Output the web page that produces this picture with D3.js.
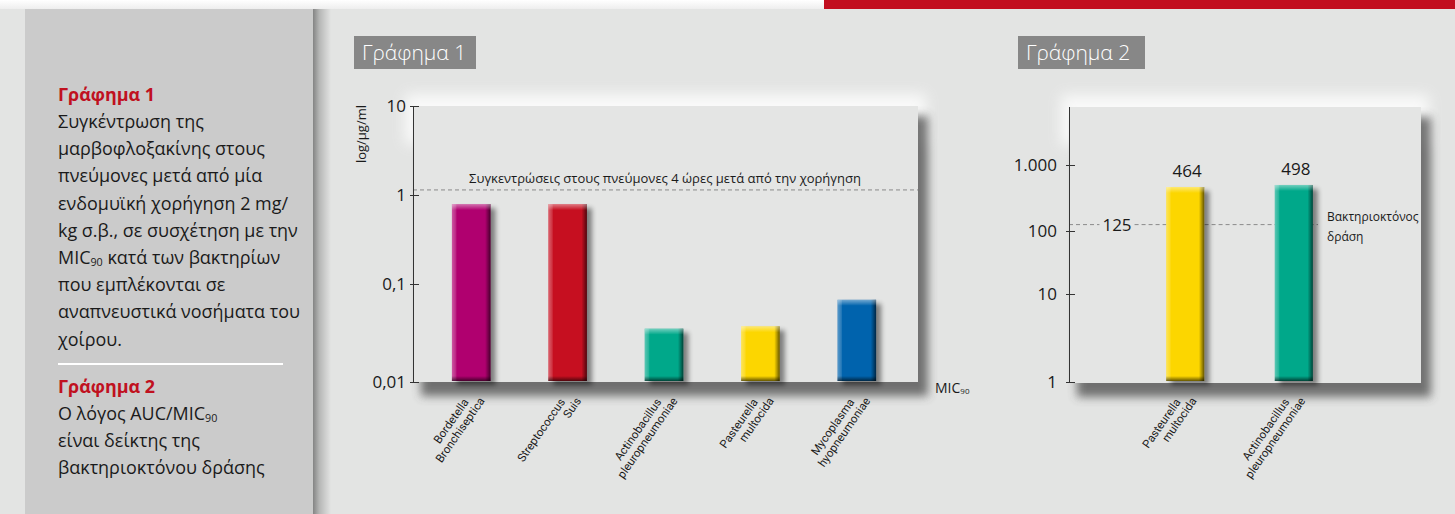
<!DOCTYPE html>
<html>
<head>
<meta charset="utf-8">
<script src="https://cdn.jsdelivr.net/npm/d3@7"></script>
<style>
  html, body { margin: 0; padding: 0; background: #e3e4e3; }
  svg { display: block; font-family: "Open Sans", sans-serif; }
</style>
</head>
<body>
<svg id="chart" width="1455" height="514"></svg>
<script>
// Γράφημα 1 : MIC90 (log μg/ml)
const bacteria1 = [["Bordetella", "Bronchiseptica"], ["Streptococcus", "Suis"], ["Actinobacillus", "pleuropneumoniae"], ["Pasteurella", "multocida"], ["Mycoplasma", "hyopneumoniae"]];
const mic90 = [0.79, 0.79, 0.035, 0.037, 0.069];
const colors1 = ["#b0006f", "#c60f20", "#00a88a", "#fcd600", "#0063ad"];
const lungConc = 1.14;
const ticks1 = [0.01, 0.1, 1, 10];
const tickLabels1 = ["0,01", "0,1", "1", "10"];

// Γράφημα 2 : AUC/MIC90
const bacteria2 = [["Pasteurella", "multocida"], ["Actinobacillus", "pleuropneumoniae"]];
const aucMic = [464, 498];
const colors2 = ["#fcd600", "#00a88a"];
const bactericidal = 125;
const ticks2 = [1, 10, 100, 1000];
const tickLabels2 = ["1", "10", "100", "1.000"];

// side panel text
const caption1 = [
  [{t: "Συγκέντρωση της"}],
  [{t: "μαρβοφλοξακίνης στους"}],
  [{t: "πνεύμονες μετά από μία"}],
  [{t: "ενδομυϊκή χορήγηση 2 mg/"}],
  [{t: "kg σ.β., σε συσχέτηση με την"}],
  [{t: "MIC"}, {t: "90", sub: true}, {t: " κατά των βακτηρίων"}],
  [{t: "που εμπλέκονται σε"}],
  [{t: "αναπνευστικά νοσήματα του"}],
  [{t: "χοίρου."}]
];
const caption2 = [
  [{t: "Ο λόγος AUC/MIC"}, {t: "90", sub: true}],
  [{t: "είναι δείκτης της"}],
  [{t: "βακτηριοκτόνου δράσης"}]
];

const svg = d3.select("#chart");
const defs = svg.append("defs");

// blur filters for shadows / glow
[["blur5", 5], ["blur3", 2.5], ["blur7", 7]].forEach(function(f){
  defs.append("filter").attr("id", f[0])
      .attr("x", "-50%").attr("y", "-50%").attr("width", "200%").attr("height", "200%")
    .append("feGaussianBlur").attr("stdDeviation", f[1]);
});

// bevel overlays for bars
let hGrad = defs.append("linearGradient").attr("id", "bevelH").attr("x1", 0).attr("x2", 1).attr("y1", 0).attr("y2", 0);
[[0, "#fff", 0.35], [0.1, "#fff", 0.15], [0.13, "#fff", 0], [0.86, "#000", 0], [0.92, "#000", 0.25], [1, "#000", 0.6]].forEach(function(s){
  hGrad.append("stop").attr("offset", s[0]).attr("stop-color", s[1]).attr("stop-opacity", s[2]);
});
let topGrad = defs.append("linearGradient").attr("id", "bevelTop").attr("x1", 0).attr("x2", 0).attr("y1", 0).attr("y2", 1);
[[0, "#fff", 0.45], [1, "#fff", 0]].forEach(function(s){
  topGrad.append("stop").attr("offset", s[0]).attr("stop-color", s[1]).attr("stop-opacity", s[2]);
});
let botGrad = defs.append("linearGradient").attr("id", "bevelBot").attr("x1", 0).attr("x2", 0).attr("y1", 0).attr("y2", 1);
[[0, "#000", 0], [1, "#000", 0.6]].forEach(function(s){
  botGrad.append("stop").attr("offset", s[0]).attr("stop-color", s[1]).attr("stop-opacity", s[2]);
});
let sideShadow = defs.append("linearGradient").attr("id", "sideShadow").attr("x1", 0).attr("x2", 1).attr("y1", 0).attr("y2", 0);
[[0, "#000", 0.42], [0.35, "#000", 0.2], [1, "#000", 0]].forEach(function(s){
  sideShadow.append("stop").attr("offset", s[0]).attr("stop-color", s[1]).attr("stop-opacity", s[2]);
});
let topStrip = defs.append("linearGradient").attr("id", "topStrip").attr("x1", 0).attr("x2", 0).attr("y1", 0).attr("y2", 1);
[[0, "#ffffff"], [1, "#eeeeee"]].forEach(function(s){
  topStrip.append("stop").attr("offset", s[0]).attr("stop-color", s[1]);
});

// background, header strip
svg.append("rect").attr("width", 1455).attr("height", 514).attr("fill", "#e3e4e3");
svg.append("rect").attr("width", 1455).attr("height", 9).attr("fill", "url(#topStrip)");
svg.append("rect").attr("x", 824).attr("width", 631).attr("height", 9).attr("fill", "#c20e1f");

// left caption panel
svg.append("rect").attr("x", 313).attr("y", 9).attr("width", 18).attr("height", 505).attr("fill", "url(#sideShadow)");
svg.append("rect").attr("x", 25).attr("y", 9).attr("width", 288).attr("height", 505).attr("fill", "#cbcbcb");

let capG = svg.append("g").attr("font-size", 16).attr("fill", "#1a1a1a");
function writeLines(lines, y0){
  lines.forEach(function(line, i){
    let t = capG.append("text").attr("class", "cap").attr("x", 58).attr("y", y0 + i * 27.2);
    line.forEach(function(seg){
      let s = t.append("tspan").text(seg.t);
      if(seg.sub){ s.attr("font-size", "0.6em").attr("dy", 2); }
      else if(t.selectAll("tspan").size() > 1){ s.attr("dy", -2); }
    });
  });
}
capG.append("text").attr("x", 58).attr("y", 101).attr("font-weight", "bold").attr("fill", "#c0111f").text("Γράφημα 1");
writeLines(caption1, 128);
capG.append("line").attr("x1", 58).attr("x2", 283).attr("y1", 364).attr("y2", 364).attr("stroke", "#fff").attr("stroke-width", 2);
capG.append("text").attr("x", 58).attr("y", 393).attr("font-weight", "bold").attr("fill", "#c0111f").text("Γράφημα 2");
writeLines(caption2, 420);
// fit caption width to panel
let maxW = d3.max(capG.selectAll("text.cap").nodes(), function(n){ return n.getComputedTextLength(); });
capG.attr("font-size", 16 * 242 / maxW);

// title boxes
function titleBox(x, y, w, label){
  svg.append("rect").attr("x", x).attr("y", y).attr("width", w).attr("height", 33).attr("fill", "#878787");
  svg.append("text").attr("x", x + 8).attr("y", y + 24).attr("fill", "#fff")
     .attr("font-size", 21).attr("font-weight", 300).text(label);
}
titleBox(354, 36, 122, "Γράφημα 1");
titleBox(1018, 36, 127, "Γράφημα 2");

// plot panel with glow and drop shadow
function panel(x0, y0, x1, y1){
  svg.append("rect").attr("x", x0 - 8).attr("y", y0 - 12).attr("width", x1 - x0 + 16).attr("height", 50)
     .attr("fill", "#fff").attr("opacity", 0.8).attr("filter", "url(#blur7)");
  svg.append("rect").attr("x", x0 + 8).attr("y", y0 + 10).attr("width", x1 - x0 + 2).attr("height", y1 - y0 + 4)
     .attr("fill", "#4a4a4a").attr("opacity", 0.75).attr("filter", "url(#blur5)");
  svg.append("rect").attr("x", x0).attr("y", y0).attr("width", x1 - x0).attr("height", y1 - y0).attr("fill", "#e4e5e4");
}

function drawBar(g, x, y, w, h, color){
  g.append("rect").attr("x", x + 5).attr("y", y + 4).attr("width", w).attr("height", h)
   .attr("fill", "#000").attr("opacity", 0.45).attr("filter", "url(#blur3)");
  g.append("rect").attr("x", x).attr("y", y).attr("width", w).attr("height", h).attr("fill", color);
  g.append("rect").attr("x", x).attr("y", y).attr("width", w).attr("height", h).attr("fill", "url(#bevelH)");
  g.append("rect").attr("x", x).attr("y", y).attr("width", w).attr("height", Math.min(6, h)).attr("fill", "url(#bevelTop)");
  g.append("rect").attr("x", x).attr("y", y + h - 5).attr("width", w).attr("height", 5).attr("fill", "url(#bevelBot)");
}

function xLabels(g, lines, cx){
  let t = g.append("text").attr("transform", "translate(" + (cx - 2) + ",402) rotate(-55)")
     .attr("text-anchor", "end").attr("font-family", "Roboto, sans-serif").attr("font-size", 11.5)
     .attr("fill", "#1a1a1a");
  t.append("tspan").attr("x", 0).attr("y", 0).text(lines[0]);
  t.append("tspan").attr("x", 10).attr("y", 12.5).text(lines[1]);
}

function styleAxis(ax, labelX){
  ax.select(".domain").attr("stroke", "#333");
  ax.selectAll(".tick line").attr("x1", -3).attr("x2", 6).attr("stroke", "#333");
  ax.selectAll(".tick text").attr("x", labelX).attr("font-size", 17).attr("font-family", "'Open Sans', sans-serif").attr("fill", "#1a1a1a");
}

// ---------- Γράφημα 1 ----------
const y1 = d3.scaleLog().domain(ticks1).range([382, 284, 195, 106]);
const x1 = d3.scaleBand().domain(d3.range(mic90.length)).range([423, 905]).paddingInner(0.6).paddingOuter(0.3);
panel(413, 106, 918, 382);

let g1 = svg.append("g");
g1.append("line").attr("x1", 413).attr("x2", 918).attr("y1", y1(lungConc)).attr("y2", y1(lungConc))
  .attr("stroke", "#8a8a8a").attr("stroke-dasharray", "4,3");
g1.append("text").attr("x", 665).attr("y", y1(lungConc) - 7).attr("text-anchor", "middle")
  .attr("font-size", 13).attr("fill", "#1a1a1a").text("Συγκεντρώσεις στους πνεύμονες 4 ώρες μετά από την χορήγηση");

mic90.forEach(function(v, i){
  drawBar(g1, x1(i), y1(v), x1.bandwidth(), y1(0.01) - 1 - y1(v), colors1[i]);
  xLabels(g1, bacteria1[i], x1(i) + x1.bandwidth() / 2);
});

let ax1 = svg.append("g").attr("transform", "translate(413,0)")
  .call(d3.axisLeft(y1).tickValues(ticks1).tickFormat(function(d, i){ return tickLabels1[i]; }).tickSizeOuter(0));
styleAxis(ax1, -7);

svg.append("text").attr("transform", "translate(366,105) rotate(-90)").attr("text-anchor", "end")
  .attr("font-size", 13).attr("fill", "#1a1a1a").text("log/μg/ml");
let mic = svg.append("text").attr("x", 935).attr("y", 393).attr("font-size", 14).attr("fill", "#1a1a1a");
mic.append("tspan").text("MIC");
mic.append("tspan").attr("font-size", 8).attr("dy", 1).text("90");

// ---------- Γράφημα 2 ----------
const y2 = d3.scaleLog().domain(ticks2).range([382, 294, 231, 165]);
const x2 = d3.scaleBand().domain(d3.range(aucMic.length)).range([1063, 1416]).paddingInner(0.65).paddingOuter(0.95);
panel(1069, 107, 1421, 383);

let g2 = svg.append("g");
let lbl125 = g2.append("text").attr("x", 1117).attr("y", y2(bactericidal) + 6).attr("text-anchor", "middle")
  .attr("font-size", 17).attr("fill", "#1a1a1a").text(bactericidal);
let bb = lbl125.node().getBBox();
[[1069, bb.x - 3], [bb.x + bb.width + 3, 1318]].forEach(function(seg){
  g2.append("line").attr("x1", seg[0]).attr("x2", seg[1]).attr("y1", y2(bactericidal)).attr("y2", y2(bactericidal))
    .attr("stroke", "#8a8a8a").attr("stroke-dasharray", "4,3");
});
let bk = g2.append("text").attr("font-size", 12).attr("fill", "#1a1a1a");
bk.append("tspan").attr("x", 1327).attr("y", y2(bactericidal) - 4).text("Βακτηριοκτόνος");
bk.append("tspan").attr("x", 1327).attr("y", y2(bactericidal) + 16).text("δράση");

aucMic.forEach(function(v, i){
  drawBar(g2, x2(i), y2(v), x2.bandwidth(), y2(1) - 1 - y2(v), colors2[i]);
  g2.append("text").attr("x", x2(i) + x2.bandwidth() / 2 + 2).attr("y", y2(v) - 10).attr("text-anchor", "middle")
    .attr("font-size", 17).attr("fill", "#1a1a1a").text(v);
  xLabels(g2, bacteria2[i], x2(i) + x2.bandwidth() / 2 - 2);
});

let ax2 = svg.append("g").attr("transform", "translate(1069,0)")
  .call(d3.axisLeft(y2).tickValues(ticks2).tickFormat(function(d, i){ return tickLabels2[i]; }).tickSizeOuter(0));
styleAxis(ax2, -12);
ax2.select(".domain").attr("d", "M0.5,383V107");
</script>
</body>
</html>
